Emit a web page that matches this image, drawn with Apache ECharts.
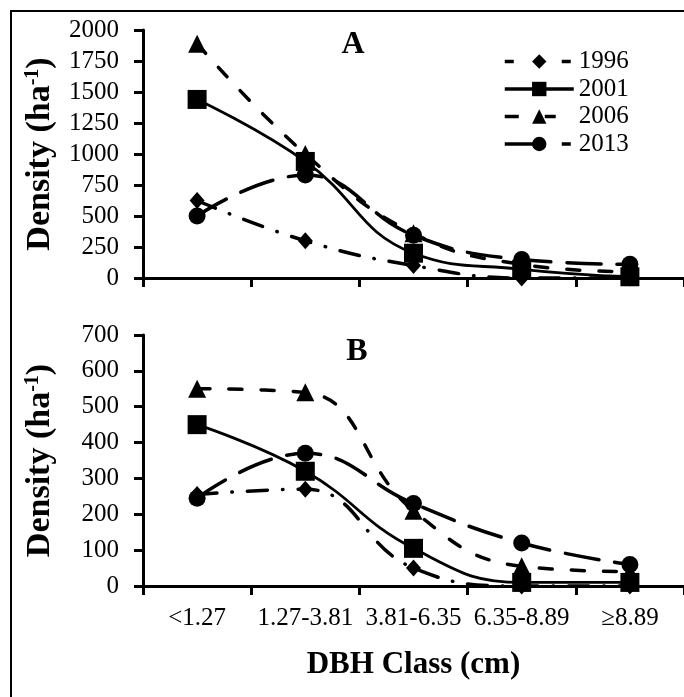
<!DOCTYPE html>
<html>
<head>
<meta charset="utf-8">
<script src="https://cdn.jsdelivr.net/npm/echarts@6/dist/echarts.min.js"></script>
<style>
html,body{margin:0;padding:0;background:#fff;}
#chart{width:684px;height:697px;}
</style>
</head>
<body>
<div id="chart"></div>
<script>
const categories = ['<1.27', '1.27-3.81', '3.81-6.35', '6.35-8.89', '\u22658.89'];
const years = ['1996', '2001', '2006', '2013'];

// Panel A
const a1996 = [625, 300, 100, 0, 0];
const a2001 = [1440, 940, 200, 70, 10];
const a2006 = [1890, 1000, 360, 110, 50];
const a2013 = [500, 830, 345, 150, 110];

// Panel B
const b1996 = [255, 270, 50, 0, 0];
const b2001 = [450, 320, 105, 10, 10];
const b2006 = [550, 540, 210, 55, 40];
const b2013 = [245, 370, 230, 120, 60];

const yTicksA = [0, 250, 500, 750, 1000, 1250, 1500, 1750, 2000];
const yTicksB = [0, 100, 200, 300, 400, 500, 600, 700];
const panelLabels = ['A', 'B'];
const xTitle = 'DBH Class (cm)';

const FONT = '"Liberation Serif", "Times New Roman", serif';

const styles = {
  '1996': { symbol: 'diamond', symbolSize: [15, 17], line: { type: [20, 15, 0.5, 15], width: 3.5, cap: 'round' }, legendDash: [9, 48] },
  '2001': { symbol: 'rect', symbolSize: 19, line: { type: 'solid', width: 2.8, cap: 'round' }, legendDash: 'solid' },
  '2006': { symbol: 'triangle', symbolSize: 18, line: { type: [13, 19], width: 3.5, cap: 'round' }, legendDash: [14, 26, 11, 30] },
  '2013': { symbol: 'circle', symbolSize: 17, line: { type: [34, 16], width: 3.5, cap: 'round' }, legendDash: [34, 23, 9, 10] }
};

const dataA = { '1996': a1996, '2001': a2001, '2006': a2006, '2013': a2013 };
const dataB = { '1996': b1996, '2001': b2001, '2006': b2006, '2013': b2013 };

function mkSeries(name, values, idx) {
  const s = styles[name];
  return {
    name: name,
    type: 'line',
    xAxisIndex: idx,
    yAxisIndex: idx,
    data: values,
    smooth: 0.45,
    symbol: s.symbol,
    symbolSize: s.symbolSize,
    showSymbol: true,
    showAllSymbol: true,
    itemStyle: { color: '#000' },
    lineStyle: Object.assign({ color: '#000' }, s.line),
    emphasis: { disabled: true },
    animation: false
  };
}

const series = [];
years.forEach(y => series.push(mkSeries(y, dataA[y], 0)));
years.forEach(y => series.push(mkSeries(y, dataB[y], 1)));

function xAxis(idx, showLabels) {
  return {
    type: 'category',
    gridIndex: idx,
    data: categories,
    boundaryGap: true,
    axisLine: { show: true, lineStyle: { color: '#000', width: 3 } },
    axisTick: { show: true, length: 9, inside: false, lineStyle: { color: '#000', width: 3 } },
    axisLabel: {
      show: showLabels, color: '#000', fontFamily: FONT, fontSize: 25, margin: 20, interval: 0
    },
    splitLine: { show: false },
    name: showLabels ? xTitle : '',
    nameLocation: 'middle',
    nameGap: 63,
    nameTextStyle: { color: '#000', fontFamily: FONT, fontSize: 31, fontWeight: 'bold' }
  };
}

function yAxis(idx, ticks) {
  return {
    type: 'value',
    gridIndex: idx,
    min: ticks[0],
    max: ticks[ticks.length - 1],
    interval: ticks[1] - ticks[0],
    axisLine: { show: true, lineStyle: { color: '#000', width: 3 } },
    axisTick: { show: true, length: 9, lineStyle: { color: '#000', width: 3 } },
    axisLabel: { color: '#000', fontFamily: FONT, fontSize: 25, margin: 24, formatter: v => String(v) },
    splitLine: { show: false },
    name: '{b|Density (ha}{s|-1}{b|)}',
    nameLocation: 'middle',
    nameRotate: 90,
    nameGap: 86,
    nameTextStyle: {
      color: '#000',
      rich: {
        b: { fontFamily: FONT, fontSize: 34, fontWeight: 'bold', color: '#000' },
        s: { fontFamily: FONT, fontSize: 20, fontWeight: 'bold', color: '#000', verticalAlign: 'top', padding: [0, 0, 14, 0] }
      }
    }
  };
}

const legendData = years.map(y => ({
  name: y,
  lineStyle: { color: '#000', width: 3.5, type: styles[y].legendDash, cap: 'butt' },
  itemStyle: { color: '#000' }
}));

const chart = echarts.init(document.getElementById('chart'), null, { renderer: 'canvas' });
chart.setOption({
  backgroundColor: '#fff',
  animation: false,
  grid: [
    { left: 143, top: 30, width: 544, height: 248, containLabel: false },
    { left: 143, top: 335, width: 544, height: 251, containLabel: false }
  ],
  xAxis: [xAxis(0, false), xAxis(1, true)],
  yAxis: [yAxis(0, yTicksA), yAxis(1, yTicksB)],
  legend: {
    data: legendData,
    orient: 'vertical',
    left: 498,
    top: 44,
    itemWidth: 69,
    itemHeight: 18,
    itemGap: 2.5,
    selectedMode: false,
    lineStyle: { width: 3.5, color: '#000' },
    textStyle: { color: '#000', fontFamily: FONT, fontSize: 25, lineHeight: 24 }
  },
  graphic: [
    {
      type: 'rect', silent: true, z: 100,
      shape: { x: 11, y: 11, width: 760, height: 760 },
      style: { fill: 'none', stroke: '#000', lineWidth: 2 }
    },
    {
      type: 'text', x: 353, y: 45, silent: true,
      style: { text: panelLabels[0], font: 'bold 32px ' + FONT, fill: '#000', align: 'center', verticalAlign: 'middle' }
    },
    {
      type: 'text', x: 357, y: 352, silent: true,
      style: { text: panelLabels[1], font: 'bold 32px ' + FONT, fill: '#000', align: 'center', verticalAlign: 'middle' }
    }
  ],
  series: series
});
</script>
</body>
</html>
